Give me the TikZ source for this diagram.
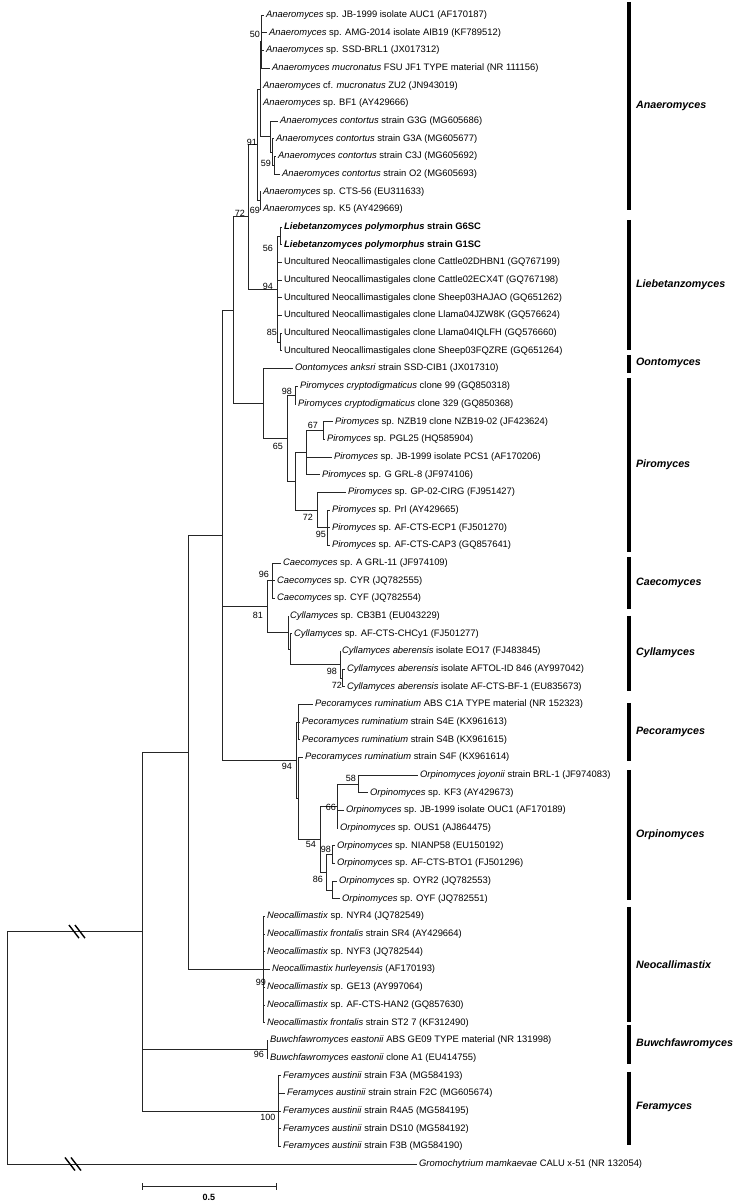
\documentclass[tikz,border=0pt]{standalone}
\usepackage{fontspec}
\setmainfont{Liberation Sans}
\newcommand{\gn}[1]{\textit{#1}}
\begin{document}
\begin{tikzpicture}[x=1pt,y=-17.68pt,
  branch/.style={line width=0.8pt,black!85},
  leaf/.style={anchor=west,inner xsep=2pt,inner ysep=0pt,font=\fontsize{9.4}{10}\selectfont},
  boot/.style={inner sep=0pt,font=\fontsize{9}{10}\selectfont},
  cladebar/.style={line width=4pt},
  clade/.style={anchor=west,inner sep=0pt,font=\fontsize{10.7}{12}\selectfont\bfseries\itshape},
  brk/.style={line width=1.4pt}]
\useasboundingbox (0,0) rectangle (743,68);

% internal nodes (x in px, y in leaf rows)
\coordinate (A50) at (261,2.35);
\coordinate (C59) at (274,9.35);
\coordinate (C2) at (272,8.6);
\coordinate (C) at (270,7.725);
\coordinate (A1) at (260,5.04);
\coordinate (A69) at (260,11.35);
\coordinate (A0) at (257,8.19);
\coordinate (L56) at (280,13.35);
\coordinate (L85) at (280,19.35);
\coordinate (L0) at (277,16.35);
\coordinate (AL) at (248,12.27);
\coordinate (P98) at (295,22.35);
\coordinate (P67) at (323,24.35);
\coordinate (P2) at (306,25.6);
\coordinate (P95) at (327,29.85);
\coordinate (P3) at (317,28.85);
\coordinate (P1) at (295,27.225);
\coordinate (P0) at (287,24.79);
\coordinate (OP) at (263,22.82);
\coordinate (Y) at (233,17.545);
\coordinate (C96) at (272,32.85);
\coordinate (Cy3) at (342,38.35);
\coordinate (Cy2) at (340,37.6);
\coordinate (Cy1) at (290,36.725);
\coordinate (Cy0) at (288,35.79);
\coordinate (K81) at (267,34.32);
\coordinate (Pe0) at (298,40.85);
\coordinate (O58) at (358,44.35);
\coordinate (O66) at (337,45.6);
\coordinate (O98) at (332,48.35);
\coordinate (OY) at (332,50.35);
\coordinate (O86) at (326,49.35);
\coordinate (O0) at (320,47.475);
\coordinate (Q) at (298,45.16);
\coordinate (PO) at (296,43.0);
\coordinate (X) at (222,30.27);
\coordinate (N99) at (263,54.85);
\coordinate (N2) at (188,42.56);
\coordinate (B96) at (267,59.35);
\coordinate (F100) at (278,62.85);
\coordinate (N1) at (142,52.7);
\coordinate (root) at (7,59.28);

% taxa
\foreach \i/\x/\t in {
 1/264/{\gn{Anaeromyces} sp. JB-1999 isolate AUC1 (AF170187)},
 2/267/{\gn{Anaeromyces} sp. AMG-2014 isolate AIB19 (KF789512)},
 3/264/{\gn{Anaeromyces} sp. SSD-BRL1 (JX017312)},
 4/270/{\gn{Anaeromyces mucronatus} FSU JF1 TYPE material (NR 111156)},
 5/261/{\gn{Anaeromyces} cf. \gn{mucronatus} ZU2 (JN943019)},
 6/261/{\gn{Anaeromyces} sp. BF1 (AY429666)},
 7/278/{\gn{Anaeromyces contortus} strain G3G (MG605686)},
 8/274/{\gn{Anaeromyces contortus} strain G3A (MG605677)},
 9/276/{\gn{Anaeromyces contortus} strain C3J (MG605692)},
 10/280/{\gn{Anaeromyces contortus} strain O2 (MG605693)},
 11/261/{\gn{Anaeromyces} sp. CTS-56 (EU311633)},
 12/261/{\gn{Anaeromyces} sp. K5 (AY429669)},
 13/282/{\bfseries\gn{Liebetanzomyces polymorphus} strain G6SC},
 14/282/{\bfseries\gn{Liebetanzomyces polymorphus} strain G1SC},
 15/282/{Uncultured Neocallimastigales clone Cattle02DHBN1 (GQ767199)},
 16/282/{Uncultured Neocallimastigales clone Cattle02ECX4T (GQ767198)},
 17/282/{Uncultured Neocallimastigales clone Sheep03HAJAO (GQ651262)},
 18/282/{Uncultured Neocallimastigales clone Llama04JZW8K (GQ576624)},
 19/282/{Uncultured Neocallimastigales clone Llama04IQLFH (GQ576660)},
 20/282/{Uncultured Neocallimastigales clone Sheep03FQZRE (GQ651264)},
 21/293/{\gn{Oontomyces anksri} strain SSD-CIB1 (JX017310)},
 22/298/{\gn{Piromyces cryptodigmaticus} clone 99 (GQ850318)},
 23/296/{\gn{Piromyces cryptodigmaticus} clone 329 (GQ850368)},
 24/333/{\gn{Piromyces} sp. NZB19 clone NZB19-02 (JF423624)},
 25/325/{\gn{Piromyces} sp. PGL25 (HQ585904)},
 26/332/{\gn{Piromyces} sp. JB-1999 isolate PCS1 (AF170206)},
 27/320/{\gn{Piromyces} sp. G GRL-8 (JF974106)},
 28/346/{\gn{Piromyces} sp. GP-02-CIRG (FJ951427)},
 29/330/{\gn{Piromyces} sp. PrI (AY429665)},
 30/330/{\gn{Piromyces} sp. AF-CTS-ECP1 (FJ501270)},
 31/330/{\gn{Piromyces} sp. AF-CTS-CAP3 (GQ857641)},
 32/281/{\gn{Caecomyces} sp. A GRL-11 (JF974109)},
 33/275/{\gn{Caecomyces} sp. CYR (JQ782555)},
 34/275/{\gn{Caecomyces} sp. CYF (JQ782554)},
 35/288/{\gn{Cyllamyces} sp. CB3B1 (EU043229)},
 36/292/{\gn{Cyllamyces} sp. AF-CTS-CHCy1 (FJ501277)},
 37/340/{\gn{Cyllamyces aberensis} isolate EO17 (FJ483845)},
 38/345/{\gn{Cyllamyces aberensis} isolate AFTOL-ID 846 (AY997042)},
 39/345/{\gn{Cyllamyces aberensis} isolate AF-CTS-BF-1 (EU835673)},
 40/313/{\gn{Pecoramyces ruminatium} ABS C1A TYPE material (NR 152323)},
 41/300/{\gn{Pecoramyces ruminatium} strain S4E (KX961613)},
 42/300/{\gn{Pecoramyces ruminatium} strain S4B (KX961615)},
 43/303/{\gn{Pecoramyces ruminatium} strain S4F (KX961614)},
 44/418/{\gn{Orpinomyces joyonii} strain BRL-1 (JF974083)},
 45/368/{\gn{Orpinomyces} sp. KF3 (AY429673)},
 46/344/{\gn{Orpinomyces} sp. JB-1999 isolate OUC1 (AF170189)},
 47/338/{\gn{Orpinomyces} sp. OUS1 (AJ864475)},
 48/335/{\gn{Orpinomyces} sp. NIANP58 (EU150192)},
 49/335/{\gn{Orpinomyces} sp. AF-CTS-BTO1 (FJ501296)},
 50/337/{\gn{Orpinomyces} sp. OYR2 (JQ782553)},
 51/340/{\gn{Orpinomyces} sp. OYF (JQ782551)},
 52/265/{\gn{Neocallimastix} sp. NYR4 (JQ782549)},
 53/265/{\gn{Neocallimastix frontalis} strain SR4 (AY429664)},
 54/265/{\gn{Neocallimastix} sp. NYF3 (JQ782544)},
 55/270/{\gn{Neocallimastix hurleyensis} (AF170193)},
 56/265/{\gn{Neocallimastix} sp. GE13 (AY997064)},
 57/265/{\gn{Neocallimastix} sp. AF-CTS-HAN2 (GQ857630)},
 58/265/{\gn{Neocallimastix frontalis} strain ST2 7 (KF312490)},
 59/268/{\gn{Buwchfawromyces eastonii} ABS GE09 TYPE material (NR 131998)},
 60/268/{\gn{Buwchfawromyces eastonii} clone A1 (EU414755)},
 61/281/{\gn{Feramyces austinii} strain F3A (MG584193)},
 62/285/{\gn{Feramyces austinii} strain strain F2C (MG605674)},
 63/281/{\gn{Feramyces austinii} strain R4A5 (MG584195)},
 64/281/{\gn{Feramyces austinii} strain DS10 (MG584192)},
 65/281/{\gn{Feramyces austinii} strain F3B (MG584190)},
 66/417/{\gn{Gromochytrium mamkaevae} CALU x-51 (NR 132054)}}
  \node[leaf] (t\i) at (\x,\i-0.15) {\t};

% branches between internal nodes
\foreach \p/\c in {root/N1,N1/N2,N1/B96,N1/F100,N2/X,N2/N99,X/Y,X/K81,X/PO,
  Y/AL,Y/OP,AL/A0,AL/L0,A0/A1,A0/A69,A1/A50,A1/C,C/C2,C2/C59,L0/L56,L0/L85,
  OP/P0,P0/P98,P0/P1,P1/P2,P1/P3,P2/P67,P3/P95,K81/C96,K81/Cy0,Cy0/Cy1,
  Cy1/Cy2,Cy2/Cy3,PO/Pe0,PO/Q,Q/O0,O0/O66,O0/O86,O66/O58,O86/O98,O86/OY}
  \draw[branch] (\p) |- (\c);

% terminal branches
\foreach \p/\c in {A50/1,A50/2,A50/3,A50/4,A1/5,A1/6,C/7,C2/8,C59/9,C59/10,
  A69/11,A69/12,L56/13,L56/14,L0/15,L0/16,L0/17,L0/18,L85/19,L85/20,OP/21,
  P98/22,P98/23,P67/24,P67/25,P2/26,P2/27,P3/28,P95/29,P95/30,P95/31,
  C96/32,C96/33,C96/34,Cy0/35,Cy1/36,Cy2/37,Cy3/38,Cy3/39,Pe0/40,Pe0/41,
  Pe0/42,Q/43,O58/44,O58/45,O66/46,O66/47,O98/48,O98/49,OY/50,OY/51,
  N99/52,N99/53,N99/54,N99/55,N99/56,N99/57,N99/58,B96/59,B96/60,
  F100/61,F100/62,F100/63,F100/64,F100/65,root/66}
  \draw[branch] (\p) |- (t\c.west);

% bootstrap values
\foreach \x/\y/\v [count=\k] in {255/1.92/50,252/8.03/91,266/9.22/59,255/11.93/69,
  240/12.05/72,268/14.08/56,268/16.23/94,272/18.83/85,287/22.12/98,313/24.04/67,
  278/25.28/65,308/29.24/72,321/30.26/95,264/32.52/96,258/34.79/81,332/38.01/98,
  337/38.8/72,287/43.38/94,351/44.06/58,331/45.7/66,311/47.79/54,326/48.08/98,
  318/49.77/86,261/55.6/99,259/59.67/96,268/63.24/100}
  \node[boot] (bs\k) at (\x,\y) {\v};

% long branches cut
\coordinate (cut1) at (77,52.7);
\coordinate (cut2) at (73,65.85);
\foreach \c in {cut1,cut2}
  \draw[brk] (\c) ++(-3,0) +(-5,-0.37) -- +(5,0.37) (\c) ++(3,0) +(-5,-0.37) -- +(5,0.37);

% genus bars
\foreach \a/\b/\m/\n in {0.11/11.88/6.0/Anaeromyces,12.44/19.8/16.12/Liebetanzomyces,
  20.08/21.1/20.53/Oontomyces,21.38/31.22/26.3/Piromyces,31.5/34.45/32.98/Caecomyces,
  34.84/39.08/36.93/Cyllamyces,39.76/43.04/41.4/Pecoramyces,43.55/50.9/47.23/Orpinomyces,
  51.3/57.81/54.58/Neocallimastix,57.98/60.18/59.05/Buwchfawromyces,60.63/64.76/62.61/Feramyces}
{
  \draw[cladebar] (629,\a) -- (629,\b);
  \node[clade] (g-\n) at (636,\m) {\n};
}

% scale bar
\coordinate (sb0) at (142,67.14);
\coordinate (sb1) at (276,67.14);
\draw[branch] (sb0) -- (sb1);
\draw[branch] (sb0) ++(0,-0.2) -- ++(0,0.4) (sb1) ++(0,-0.2) -- ++(0,0.4);
\node[boot,font=\fontsize{9}{10}\selectfont\bfseries] (sbl) at (209,67.72) {0.5};
\end{tikzpicture}
\end{document}
